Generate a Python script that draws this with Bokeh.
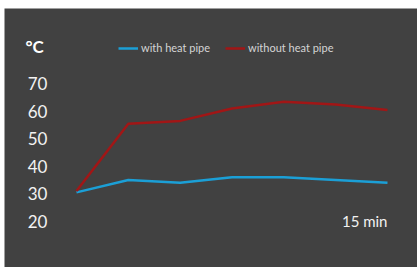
from bokeh.plotting import figure
from bokeh.models import Range1d, Legend, LegendItem, ColumnDataSource
from bokeh.core.properties import value
from bokeh.embed import file_html
from bokeh.resources import INLINE

# data
time_idx = [0, 1, 2, 3, 4, 5, 6]
with_pipe = [30.5, 35, 34, 36, 36, 35, 34]
without_pipe = [31, 55.5, 56.5, 61, 63.5, 62.5, 60.5]
y_ticks = [20, 30, 40, 50, 60, 70]
y_tick_labels = ["20", "30", "40", "50", "60", "70"]
unit_label = "°C"
end_label = "15 min"
series_names = ["with heat pipe", "without heat pipe"]

BG = "#414141"
BLUE = "#1b9fd6"
RED = "#a11616"
FONT = "Lato"

p = figure(width=413, height=259, output_backend="svg", toolbar_location=None,
           margin=(8, 0, 0, 4), min_border=0,
           background_fill_color=BG, border_fill_color=BG, outline_line_color=None)
p.x_range = Range1d(-1.389, 6.579)
p.y_range = Range1d(3.15, 97.4)
p.axis.visible = False
p.grid.visible = False

# y tick labels (left column)
tick_src = ColumnDataSource(dict(x=[-0.56] * len(y_ticks), y=y_ticks, t=y_tick_labels))
p.text("x", "y", text="t", source=tick_src, text_align="right", text_baseline="middle",
       text_color="#f2f2f2", text_font=value(FONT), text_font_size="17px")

# unit label
p.text(x=[-0.984], y=[83.6], text=[unit_label], text_align="left", text_baseline="middle",
       text_color="#ffffff", text_font=value(FONT), text_font_size="17px",
       text_font_style="bold")

# end-of-axis label
p.text(x=[time_idx[-1]], y=[y_ticks[0]], text=[end_label], text_align="right",
       text_baseline="middle", text_color="#f2f2f2", text_font=value(FONT),
       text_font_size="15px")

src = ColumnDataSource(dict(x=time_idx, a=with_pipe, b=without_pipe))
r1 = p.line("x", "a", source=src, line_color=BLUE, line_width=2.5)
r2 = p.line("x", "b", source=src, line_color=RED, line_width=2.5)

legend = Legend(items=[LegendItem(label=series_names[0], renderers=[r1]),
                       LegendItem(label=series_names[1], renderers=[r2])],
                orientation="horizontal", location=(114, 213),
                background_fill_alpha=0, border_line_color=None,
                label_text_color="#d4d4d4", label_text_font=FONT, label_text_font_size="11px",
                glyph_width=20, glyph_height=12, label_standoff=3, spacing=15,
                padding=0, margin=0, label_height=12)
p.add_layout(legend, "center")

open("out.html", "w").write(file_html(p, INLINE))
